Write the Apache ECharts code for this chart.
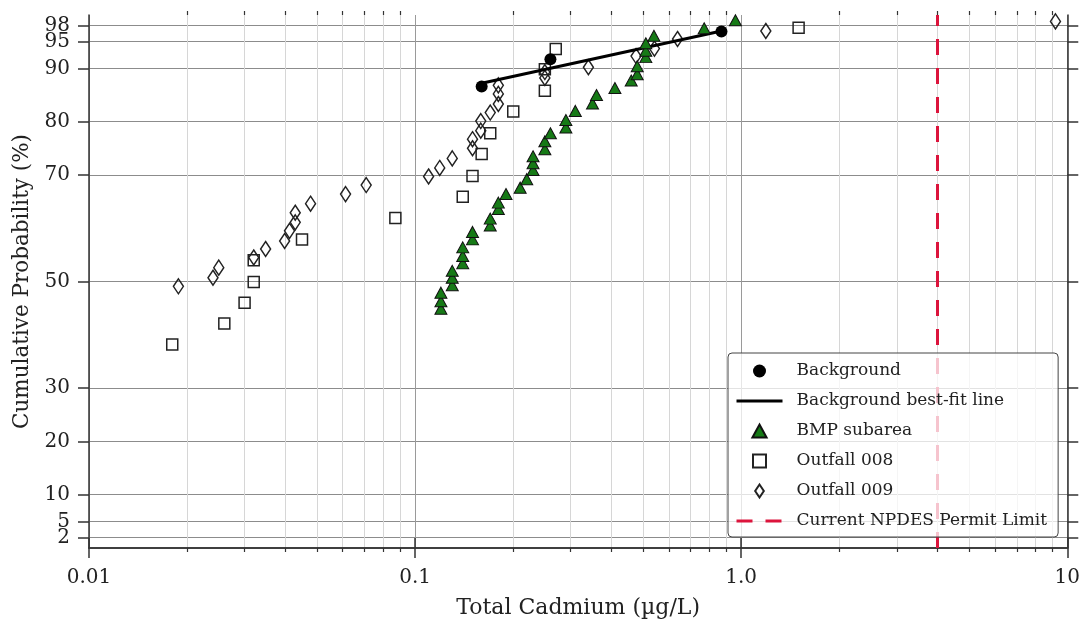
<!DOCTYPE html>
<html><head><meta charset="utf-8">
<script src="https://cdn.jsdelivr.net/npm/echarts@6/dist/echarts.min.js"></script>
<style>html,body{margin:0;padding:0;background:#fff}#c{width:1083px;height:628px}</style>
</head><body><div id="c"></div>
<script>
// ---- data ----
const yTicks = [2, 5, 10, 20, 30, 50, 70, 80, 90, 95, 98];
const yTightTicks = [5, 95];   // labels drawn on a second overlay axis so none get hidden
const xMajorTicks = [0.01, 0.1, 1, 10];
const xTickLabels = ['0.01', '0.1', '1.0', '10'];
const xMinorTicks = [0.02,0.03,0.04,0.05,0.06,0.07,0.08,0.09,0.2,0.3,0.4,0.5,0.6,0.7,0.8,0.9,2,3,4,5,6,7,8,9];

const bgX = [0.16, 0.26, 0.87];
const bgY = [86.6, 91.7, 96.9];

const fitX = [0.16, 0.87];
const fitY = [87.2, 97.0];

const bmpX = [0.12,0.12,0.12,0.13,0.13,0.13,0.14,0.14,0.14,0.15,0.15,0.17,0.17,0.18,0.18,0.19,0.21,0.22,0.23,0.23,0.23,0.25,0.25,0.26,0.29,0.29,0.31,0.35,0.36,0.41,0.46,0.48,0.48,0.51,0.51,0.51,0.54,0.77,0.96];
const bmpY = [44.9,46.3,47.9,49.3,50.7,52.0,53.4,54.8,56.4,57.9,59.3,60.5,61.8,63.6,64.8,66.4,67.6,69.2,70.9,72.2,73.5,74.8,76.3,77.8,78.9,80.3,82.0,83.4,85.0,86.3,87.7,88.9,90.4,92.1,93.3,94.7,96.1,97.5,99.0];

const o008X = [0.018,0.026,0.030,0.032,0.032,0.045,0.087,0.14,0.15,0.16,0.17,0.20,0.25,0.25,0.27,1.5];
const o008Y = [38.2,42.1,46.0,49.9,54.0,57.9,61.9,65.9,69.8,73.9,77.8,81.9,85.8,89.8,93.6,97.6];

const o009X = [0.0188,0.024,0.025,0.032,0.0348,0.0398,0.0412,0.0429,0.0429,0.0478,0.0612,0.0708,0.110,0.119,0.130,0.150,0.150,0.159,0.159,0.170,0.180,0.180,0.180,0.25,0.25,0.34,0.476,0.542,0.638,1.19,9.2];
const o009Y = [49.1,50.7,52.6,54.5,56.1,57.6,59.5,61.1,62.9,64.6,66.4,68.1,69.7,71.3,73.1,75.0,76.7,78.3,80.1,81.7,83.3,85.2,86.8,88.2,89.3,90.2,92.3,93.7,95.5,97.0,98.8];

const limitX = [4.0, 4.0];
const limitY = [0, 100];

// ---- chart ----
const zip = (a, b) => a.map((v, i) => [v, b[i]]);
const FONT = 'DejaVu Serif';
const chart = echarts.init(document.getElementById('c'), null, {renderer: 'canvas'});

const axisLineStyle = {color: '#333', width: 1.5};
function xLabel(v) {
  for (let i = 0; i < xMajorTicks.length; i++) {
    if (Math.abs(v - xMajorTicks[i]) / xMajorTicks[i] < 1e-6) return xTickLabels[i];
  }
  return '';
}
const baseX = {type: 'log', logBase: 10, min: 0.01, max: 10, gridIndex: 0};
const yMainLabels = yTicks.filter(v => yTightTicks.indexOf(v) < 0);
const yLabelStyle = {margin: 19, fontFamily: FONT, fontSize: 20, color: '#222'};

const ICON_TRI = 'path://M6,0L12,11L0,11Z';
const ICON_SQ = 'path://M0,0L11,0L11,11L0,11Z';
const ICON_DIA = 'path://M5,0L10,7.5L5,15L0,7.5Z';

chart.setOption({
  animation: false,
  backgroundColor: '#fff',
  grid: {left: 89, top: 15, width: 979, height: 533, containLabel: false},
  xAxis: [
    Object.assign({}, baseX, {
      position: 'bottom',
      name: 'Total Cadmium (µg/L)', nameLocation: 'middle', nameGap: 49,
      nameTextStyle: {fontFamily: FONT, fontSize: 22, color: '#222'},
      axisLine: {show: true, lineStyle: axisLineStyle},
      axisTick: {show: true, length: 10, lineStyle: {color: '#333', width: 1.5}},
      axisLabel: {show: true, formatter: xLabel, margin: 20, fontFamily: FONT, fontSize: 20, color: '#222', showMinLabel: true, showMaxLabel: true},
      splitLine: {show: true, lineStyle: {color: '#9a9a9a', width: 1}}
    }),
    Object.assign({}, baseX, {
      position: 'bottom',
      axisLine: {show: false},
      axisTick: {show: true, length: 4, customValues: xMinorTicks, lineStyle: {color: '#333', width: 1.2}},
      axisLabel: {show: false},
      splitLine: {show: true, lineStyle: {color: '#d6d6d6', width: 1}}
    }),
    Object.assign({}, baseX, {
      position: 'top',
      axisLine: {show: true, lineStyle: axisLineStyle},
      axisTick: {show: true, length: 10, lineStyle: {color: '#333', width: 1.5}},
      axisLabel: {show: false},
      splitLine: {show: false}
    }),
    Object.assign({}, baseX, {
      position: 'top',
      axisLine: {show: false},
      axisTick: {show: true, length: 4, customValues: xMinorTicks, lineStyle: {color: '#333', width: 1.2}},
      axisLabel: {show: false},
      splitLine: {show: false}
    })
  ],
  yAxis: [
    {
      type: 'value', min: 0, max: 100, position: 'left',
      name: 'Cumulative Probability (%)', nameLocation: 'middle', nameGap: 56,
      nameTextStyle: {fontFamily: FONT, fontSize: 21.5, color: '#222'},
      axisLine: {show: true, lineStyle: axisLineStyle},
      axisTick: {show: true, length: 11, customValues: yTicks, lineStyle: {color: '#333', width: 1.5}},
      axisLabel: Object.assign({show: true, customValues: yMainLabels, showMinLabel: true, showMaxLabel: true}, yLabelStyle),
      splitLine: {show: true, lineStyle: {color: '#8c8c8c', width: 1.2}}
    },
    {
      type: 'value', min: 0, max: 100, position: 'left',
      axisLine: {show: false},
      axisTick: {show: false},
      axisLabel: Object.assign({show: true, customValues: yTightTicks, showMinLabel: true, showMaxLabel: true}, yLabelStyle),
      splitLine: {show: false}
    },
    {
      type: 'value', min: 0, max: 100, position: 'right',
      axisLine: {show: true, lineStyle: axisLineStyle},
      axisTick: {show: true, length: 11, customValues: yTicks, lineStyle: {color: '#333', width: 1.5}},
      axisLabel: {show: false},
      splitLine: {show: false}
    }
  ],
  legend: {
    orient: 'vertical', left: 728, top: 353,
    data: [
      {name: 'Background', icon: 'circle'},
      {name: 'Background best-fit line', itemStyle: {opacity: 0}, lineStyle: {width: 3}},
      {name: 'BMP subarea', icon: ICON_TRI},
      {name: 'Outfall 008', icon: ICON_SQ},
      {name: 'Outfall 009', icon: ICON_DIA},
      {name: 'Current NPDES Permit Limit', itemStyle: {opacity: 0}, lineStyle: {width: 3}}
    ],
    symbolKeepAspect: true,
    itemWidth: 46, itemHeight: 13, itemGap: 10,
    padding: [8, 11, 6, 7],
    backgroundColor: 'rgba(255,255,255,0.75)',
    borderColor: '#444', borderWidth: 1, borderRadius: 4,
    textStyle: {fontFamily: FONT, fontSize: 17, color: '#222', lineHeight: 20, padding: [0, 0, 0, 9]}
  },
  series: [
    {
      name: 'Outfall 008', type: 'scatter', xAxisIndex: 0, yAxisIndex: 0,
      symbol: 'rect', symbolSize: 11, z: 3,
      itemStyle: {color: 'rgba(255,255,255,0)', borderColor: '#222', borderWidth: 1.5, opacity: 1},
      data: zip(o008X, o008Y)
    },
    {
      name: 'Outfall 009', type: 'scatter', xAxisIndex: 0, yAxisIndex: 0,
      symbol: 'diamond', symbolSize: [10, 15], z: 3,
      itemStyle: {color: 'rgba(255,255,255,0)', borderColor: '#222', borderWidth: 1.5, opacity: 1},
      data: zip(o009X, o009Y)
    },
    {
      name: 'Background best-fit line', type: 'line', xAxisIndex: 0, yAxisIndex: 0,
      symbol: 'none', showSymbol: false, z: 4,
      lineStyle: {color: '#000', width: 3},
      itemStyle: {color: '#000'},
      data: zip(fitX, fitY)
    },
    {
      name: 'BMP subarea', type: 'scatter', xAxisIndex: 0, yAxisIndex: 0,
      symbol: 'triangle', symbolSize: [12, 11], z: 5,
      itemStyle: {color: '#167a16', borderColor: '#111', borderWidth: 1, opacity: 1},
      data: zip(bmpX, bmpY)
    },
    {
      name: 'Background', type: 'scatter', xAxisIndex: 0, yAxisIndex: 0,
      symbol: 'circle', symbolSize: 12, z: 6,
      itemStyle: {color: '#000', opacity: 1},
      data: zip(bgX, bgY)
    },
    {
      name: 'Current NPDES Permit Limit', type: 'line', xAxisIndex: 0, yAxisIndex: 0,
      symbol: 'none', showSymbol: false, z: 2,
      lineStyle: {color: '#dc143c', width: 3, type: [16, 13]},
      itemStyle: {color: '#dc143c'},
      data: zip(limitX, limitY)
    }
  ]
});
</script>
</body></html>
